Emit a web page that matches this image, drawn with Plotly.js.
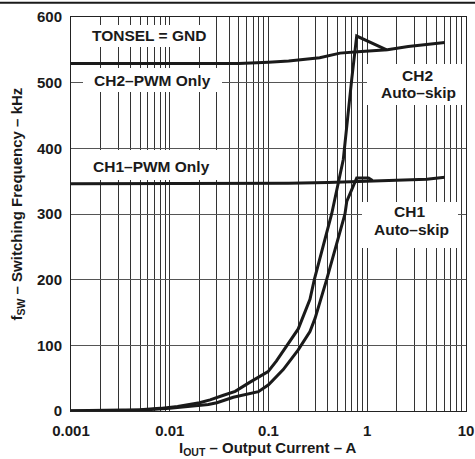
<!DOCTYPE html>
<html>
<head>
<meta charset="utf-8">
<script src="https://cdn.plot.ly/plotly-3.0.1.min.js"></script>
<style>
  html, body { margin: 0; padding: 0; background: #fff; }
  #chart { width: 475px; height: 459px; }
</style>
</head>
<body>
<div id="chart"></div>
<script>
// ---- Data ----
const ch2PwmI = [0.001, 0.01, 0.03, 0.05, 0.1, 0.16, 0.33, 0.53, 0.8, 1.6, 2.6, 6.1];
const ch2PwmF = [529, 529, 529, 529, 531, 533, 538, 545, 547, 550, 555, 561];

const ch1PwmI = [0.001, 0.1, 0.16, 0.4, 1, 2, 4, 6.1];
const ch1PwmF = [346, 346, 347, 348, 350, 351, 353, 356];

const ch2SkipI = [0.001, 0.003, 0.005, 0.008, 0.012, 0.02, 0.0256, 0.035, 0.046, 0.065, 0.08, 0.099, 0.12, 0.153, 0.2, 0.263, 0.291, 0.436, 0.51, 0.572, 0.696, 0.782, 1.574];
const ch2SkipF = [0.5, 1, 2, 4, 7, 12.5, 17, 24, 30, 44, 52, 60, 76, 100, 125, 170, 200, 300, 347, 383, 505, 571, 550];

const ch1SkipI = [0.001, 0.003, 0.006, 0.01, 0.0246, 0.03, 0.044, 0.06, 0.079, 0.1, 0.12, 0.141, 0.2, 0.263, 0.296, 0.388, 0.595, 0.62, 0.782, 1.03, 1.13];
const ch1SkipF = [0, 0.5, 2, 4, 10, 12.5, 21, 26, 29.5, 40, 52, 63, 93, 121, 141, 200, 300, 319, 355, 355, 351];

const xDecades = [0.001, 0.01, 0.1, 1, 10];
const xTickLabels = ['0.001', '0.01', '0.1', '1', '10'];
const yTickVals = [0, 100, 200, 300, 400, 500, 600];
const yTickLabels = ['0', '100', '200', '300', '400', '500', '600'];

const labels = {
  tonsel: 'TONSEL = GND',
  ch2Pwm: 'CH2–PWM Only',
  ch1Pwm: 'CH1–PWM Only',
  ch2: 'CH2',
  ch1: 'CH1',
  autoSkip: 'Auto–skip',
  xTitle: 'I<sub>OUT</sub> – Output Current – A',
  yTitle: 'f<sub>SW</sub> – Switching Frequency – kHz'
};

// ---- Log grid: every 1..9 multiple, labels only on decades ----
const tickvals = [], ticktext = [];
for (let i = 0; i < xDecades.length - 1; i++) {
  for (let m = 1; m <= 9; m++) {
    tickvals.push(+(xDecades[i] * m).toPrecision(6));
    ticktext.push(m === 1 ? xTickLabels[i] : '');
  }
}
tickvals.push(xDecades[xDecades.length - 1]);
ticktext.push(xTickLabels[xTickLabels.length - 1]);

// ---- Layout geometry ----
const W = 475, H = 459;
const M = { l: 71, r: 9, t: 17, b: 48 };
const PW = W - M.l - M.r, PH = H - M.t - M.b;
const px = x => (x - M.l) / PW;           // pixel -> paper x
const py = y => (H - M.b - y) / PH;       // pixel -> paper y

const FONT = 'Liberation Sans, Arial, Helvetica, sans-serif';
const INK = '#1a1a1a';

function lineTrace(x, y) {
  return { x: x, y: y, type: 'scatter', mode: 'lines',
           line: { color: INK, width: 3 }, hoverinfo: 'skip' };
}

const traces = [
  lineTrace(ch2PwmI, ch2PwmF),
  lineTrace(ch1PwmI, ch1PwmF),
  lineTrace(ch2SkipI, ch2SkipF),
  lineTrace(ch1SkipI, ch1SkipF)
];

function box(x0, y0, x1, y1) {
  return { type: 'rect', xref: 'paper', yref: 'paper',
           x0: px(x0), x1: px(x1), y0: py(y1), y1: py(y0),
           fillcolor: '#fff', line: { width: 0 }, layer: 'above' };
}

function label(text, cx, cy, size) {
  return { text: text, xref: 'paper', yref: 'paper', x: px(cx), y: py(cy),
           xanchor: 'center', yanchor: 'middle', showarrow: false,
           font: { family: FONT, size: size || 15.5, color: INK, weight: 'bold' } };
}

const shapes = [
  box(76, 25, 213, 47),
  box(83, 68, 222, 92),
  box(83, 150, 222, 180),
  box(367, 64, 466, 105),
  box(362, 202, 458, 248),
  { type: 'line', xref: 'paper', yref: 'paper',
    x0: px(0), x1: px(W), y0: py(2.7), y1: py(2.7),
    line: { color: INK, width: 2 } }
];

const annotations = [
  label(labels.tonsel, 149, 35),
  label(labels.ch2Pwm, 152.5, 80),
  label(labels.ch1Pwm, 151, 166),
  label(labels.ch2, 417.5, 75),
  label(labels.autoSkip, 418.7, 92.7),
  label(labels.ch1, 409, 211.7),
  label(labels.autoSkip, 411, 229),
  label(labels.xTitle, 268, 448.5, 15),
  Object.assign(label(labels.yTitle, 17, 204.5, 15), { textangle: -90 })
];

const layout = {
  width: W, height: H,
  margin: { l: M.l, r: M.r, t: M.t, b: M.b, pad: 0 },
  paper_bgcolor: '#fff', plot_bgcolor: '#fff',
  showlegend: false,
  font: { family: FONT, color: INK, weight: 'bold' },
  xaxis: {
    type: 'log', range: [-3, 1], tickmode: 'array', tickvals: tickvals, ticktext: ticktext,
    showgrid: true, gridcolor: '#333', gridwidth: 1, zeroline: false,
    showline: true, linecolor: '#222', linewidth: 1, mirror: true,
    ticks: '', ticklabelstandoff: 6, tickangle: 0,
    tickfont: { family: FONT, size: 15, color: INK, weight: 'bold' },
    fixedrange: true
  },
  yaxis: {
    range: [0, 600], tickmode: 'array', tickvals: yTickVals, ticktext: yTickLabels,
    showgrid: true, gridcolor: '#555', gridwidth: 1, zeroline: false,
    showline: true, linecolor: '#222', linewidth: 1, mirror: true,
    ticks: '', ticklabelstandoff: 5, tickangle: 0,
    tickfont: { family: FONT, size: 15, color: INK, weight: 'bold' },
    fixedrange: true
  },
  shapes: shapes,
  annotations: annotations
};

Plotly.newPlot('chart', traces, layout, { staticPlot: true, displayModeBar: false });
</script>
</body>
</html>
